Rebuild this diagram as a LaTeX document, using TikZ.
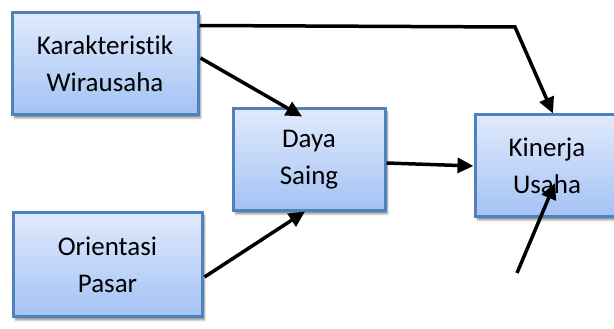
\documentclass[tikz,border=0pt]{standalone}
\usepackage{fontspec}
\setmainfont[RawFeature=-liga]{Carlito}
\usetikzlibrary{arrows.meta,shadows.blur,calc}
\definecolor{boxline}{RGB}{79,129,189}
\definecolor{boxtop}{RGB}{224,234,252}
\definecolor{boxbot}{RGB}{163,194,245}
\tikzset{
  varbox/.style={draw=boxline, line width=3pt, top color=boxtop, bottom color=boxbot,
    blur shadow={shadow xshift=2.5pt, shadow yshift=-3pt, shadow blur steps=6, shadow opacity=45},
    align=center, font=\fontsize{27}{37}\selectfont, inner sep=0pt},
  conn/.style={line width=3.5pt, -{Triangle[length=16pt,width=15pt]}}
}
\begin{document}
\begin{tikzpicture}[x=1pt,y=1pt]
\useasboundingbox (0,0) rectangle (614,329);
\clip (0,0) rectangle (614,329);
\node[varbox, minimum width=186pt, minimum height=102pt] (kw) at (105,265) {Karakteristik\\Wirausaha};
\node[varbox, minimum width=152pt, minimum height=102pt] (ds) at (309,169) {Daya\\Saing};
\node[varbox, minimum width=144pt, minimum height=102pt] (ku) at (547,163) {Kinerja\\Usaha};
\node[varbox, minimum width=189pt, minimum height=104pt] (op) at (107.5,64) {Orientasi\\Pasar};
\coordinate (bend) at (515,302);
\coordinate (free) at (517,56);
\draw[conn, line join=miter] ([yshift=-14pt]kw.north east) -- (bend) -- ([xshift=6pt]ku.north);
\draw[conn] ([xshift=1pt,yshift=6pt]kw.east) -- ([xshift=-7pt,yshift=-9pt]ds.north);
\draw[conn] ([xshift=1pt,yshift=-12pt]op.east) -- ([xshift=-4pt,yshift=1pt]ds.south);
\draw[conn] ([yshift=-3pt]ds.east) -- (ku.west);
\draw[conn] (free) -- ([xshift=8pt,yshift=-17pt]ku.center);
\end{tikzpicture}
\end{document}
